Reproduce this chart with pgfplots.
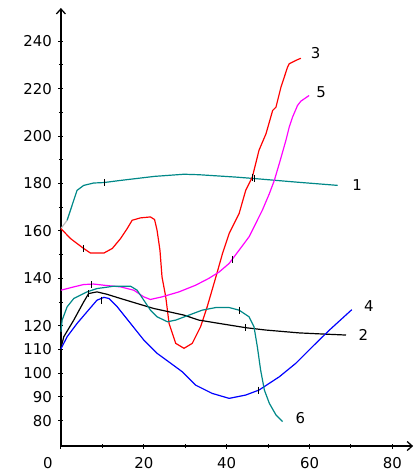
\documentclass[border=0pt]{standalone}
\usepackage{pgfplots}
\pgfplotsset{compat=1.18}
\usetikzlibrary{arrows.meta}
\usepackage{fontspec}
\setmainfont{DejaVu Sans}
\definecolor{tealc}{RGB}{0,136,136}
\definecolor{magc}{RGB}{255,0,255}
\definecolor{redc}{RGB}{255,0,0}
\definecolor{bluec}{RGB}{0,0,255}
\begin{document}
\begin{tikzpicture}
\useasboundingbox (-61bp,-27bp) rectangle (356bp,446.7bp);
\begin{axis}[
  scale only axis,
  width=352.75bp, height=438.7bp,
  xmin=0, xmax=85, ymin=69.3, ymax=254,
  axis lines=left,
  axis line style={line width=1.3bp, -{Straight Barb[length=5bp,width=9bp]}},
  xtick={20,40,60,80},
  minor xtick={10,30,50,70},
  extra x ticks={0},
  extra x tick style={xticklabel style={xshift=-13bp}},
  ytick={80,90,100,110,120,140,160,180,200,220,240},
  minor ytick={130,150,170,190,210,230},
  tick align=center,
  major tick length=5bp, minor tick length=4bp,
  tick style={black, line width=1bp},
  /pgf/number format/assume math mode=true,
  tick label style={font=\fontsize{15}{15}\selectfont},
  xticklabel style={yshift=-5bp},
  yticklabel style={xshift=-3bp},
  clip=false,
  every axis plot/.append style={line width=1.2bp},
]
% curve 1 (teal)
\addplot[gray!50, no marks] coordinates {(0,161.0) (1.5,164.5)};
\addplot[tealc, no marks] coordinates {
(1.5,164.5) (2.3,168.7) (3.1,172.9) (3.9,177.1) (5.5,179.2) (7.9,180.2) (10.4,180.4) (14.4,181.3) (22.6,183.0) (29.7,183.9) (33.3,183.7) (42.2,182.7) (46.6,182.1) (56.7,180.6) (66.8,179.2)};
% curve 3 (red)
\addplot[redc, no marks] coordinates {
(0,161.0) (2.3,156.8) (5.5,152.6) (7.1,150.7) (10.4,150.7) (12.4,152.6) (14.4,156.8) (16.0,161.0) (17.2,164.5) (19.2,165.5) (21.6,165.9) (22.6,164.8) (23.2,160.3) (23.9,151.9) (24.4,140.6) (25.3,132.2) (26.1,121.0) (27.7,112.6) (29.7,110.5) (31.7,112.6) (33.7,119.6) (35.3,128.0) (37.4,140.6) (39.0,150.5) (40.6,158.9) (43.0,167.3) (44.6,177.1) (46.2,182.7) (47.8,194.0) (49.5,201.0) (51.1,210.8) (51.9,212.2) (53.1,220.6) (54.7,229.1) (55.1,230.5) (56.7,231.9) (57.9,232.8)};
% curve 5 (magenta)
\addplot[magc, no marks] coordinates {
(0,135.0) (3.1,136.4) (5.5,137.4) (7.9,137.6) (10.4,137.1) (14.4,136.4) (17.6,135.0) (20.0,132.2) (21.6,131.1) (24.4,132.2) (28.5,134.3) (32.5,137.1) (35.7,140.0) (38.2,142.7) (40.6,146.3) (43.0,151.9) (45.4,157.5) (48.6,168.7) (50.3,175.7) (51.5,181.3) (52.7,188.4) (54.3,198.2) (55.1,203.8) (55.9,208.0) (57.1,212.9) (57.9,214.7) (59.9,217.1)};
% curve 2 (black)
\addplot[black, no marks] coordinates {
(0,110.5) (0.7,115.4) (3.1,122.4) (5.5,130.1) (6.7,133.6) (8.7,134.3) (11.1,133.3) (14.4,131.5) (18.4,129.4) (22.4,127.3) (26.1,125.9) (29.7,124.5) (33.3,122.4) (38.2,121.0) (44.6,119.2) (49.5,118.2) (57.5,117.0) (63.6,116.5) (68.8,116.1)};
% curve 4 (blue)
\addplot[bluec, no marks] coordinates {
(0,110.2) (1.5,115.4) (3.9,121.0) (6.3,125.9) (8.7,130.8) (10.4,132.0) (11.6,131.5) (13.6,128.0) (16.8,121.0) (20.0,114.0) (23.2,108.4) (26.5,104.2) (29.3,100.6) (32.5,95.0) (36.5,91.5) (40.6,89.4) (44.6,90.8) (47.8,92.9) (52.7,98.5) (56.7,104.2) (60.7,111.2) (64.8,118.2) (70.2,126.8)};
% curve 6 (teal)
\addplot[tealc, no marks] coordinates {
(0,117.5) (0.3,122.4) (1.5,128.0) (3.1,131.5) (6.3,134.3) (8.7,135.7) (12.8,136.7) (16.8,136.7) (18.4,135.0) (20.0,130.8) (21.6,126.6) (23.2,123.8) (25.7,121.7) (27.7,122.4) (30.9,124.5) (34.1,126.6) (37.4,127.7) (40.6,127.7) (43.0,126.6) (45.4,123.8) (46.6,119.6) (47.4,111.2) (48.2,101.3) (49.1,92.9) (50.3,87.3) (51.9,82.4) (53.5,79.6)};
% small cross marks on the curves
\addplot[only marks, black, mark=|, mark size=3.5bp, mark options={line width=1bp}] coordinates {
(10.4,180.4) (46.6,182.1) (5.5,152.6) (46.2,182.7) (7.5,137.4) (41.5,148.0) (6.7,133.6) (44.6,119.2) (9.9,130.8) (47.8,92.9) (43.0,126.6)};
% curve labels
\node[anchor=west, font=\fontsize{15}{15}\selectfont] at (axis cs:69.5,179.3) {1};
\node[anchor=west, font=\fontsize{15}{15}\selectfont] at (axis cs:71.0,116.3) {2};
\node[anchor=west, font=\fontsize{15}{15}\selectfont] at (axis cs:59.5,235.2) {3};
\node[anchor=west, font=\fontsize{15}{15}\selectfont] at (axis cs:72.3,128.5) {4};
\node[anchor=west, font=\fontsize{15}{15}\selectfont] at (axis cs:60.8,218.5) {5};
\node[anchor=west, font=\fontsize{15}{15}\selectfont] at (axis cs:55.8,81.0) {6};
\end{axis}
\end{tikzpicture}
\end{document}
